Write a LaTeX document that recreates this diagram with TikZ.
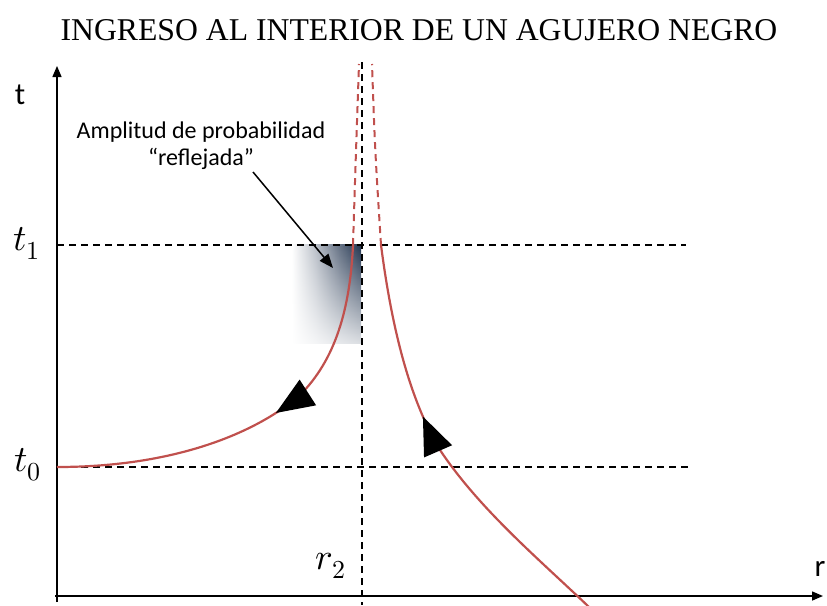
\documentclass[tikz,border=0pt]{standalone}
\usepackage{fontspec}
\usepackage{unicode-math}
\setmainfont{Liberation Serif}
\setmathfont{Latin Modern Math}
\newfontfamily\calfont{Carlito}
\usetikzlibrary{arrows.meta,decorations.markings,fadings}
\definecolor{curvered}{HTML}{C0504D}
\definecolor{navy}{HTML}{22344F}
\pgfdeclarehorizontalshading{bhh}{100bp}{%
  color(0bp)=(white); color(30bp)=(white); color(45bp)=(navy!30!white);
  color(62bp)=(navy!72!white); color(75bp)=(navy); color(100bp)=(navy)}
\tikzfading[name=bhfade, top color=transparent!0, middle color=transparent!20, bottom color=transparent!85]
\tikzset{
  axisline/.style={line width=1.5pt,-{Triangle[length=11pt,width=9pt]}},
  guide/.style={line width=1.5pt,dash pattern=on 7pt off 5pt},
  redline/.style={curvered,line width=2.2pt},
  reddash/.style={curvered,line width=2pt,dash pattern=on 7pt off 5pt},
  bigtip/.style={postaction={decorate,decoration={markings,
      mark=at position #1 with {\arrow{Triangle[length=38pt,width=30pt,color=black,fill=black]}}}}},
  mathlbl/.style={font=\fontsize{37}{39}\selectfont},
  sanslbl/.style={font=\calfont\fontsize{31}{33}\selectfont},
}
\begin{document}
\begin{tikzpicture}[x=1pt,y=-1pt]
\useasboundingbox (0,0) rectangle (827,605);
% title
\node[font=\fontsize{31.7}{35}\selectfont] (title) at (419,30) {INGRESO AL INTERIOR DE UN AGUJERO NEGRO};
% shading
\shade[shading=bhh,path fading=bhfade] (284,245) rectangle (361,344);
% coordinates
\coordinate (o) at (57,602);
\coordinate (ttop) at (57,66);
\coordinate (rl) at (55,596);
\coordinate (rr) at (823,596);
\coordinate (vtop) at (362,62);
\coordinate (vbot) at (362,605);
\coordinate (t1l) at (57,245);
\coordinate (t1r) at (686,245);
\coordinate (t0l) at (57,467);
\coordinate (t0r) at (690,467);
% guides
\draw[guide] (vtop) -- (vbot);
\draw[guide] (t1l) -- (t1r);
\draw[guide] (t0l) -- (t0r);
% axes
\draw[axisline] (o) -- (ttop);
\draw[axisline] (rl) -- (rr);
% red dashed extensions
\coordinate (la) at (353,245);
\coordinate (lb) at (359,64);
\coordinate (ra) at (381,245);
\coordinate (rb) at (372,64);
\draw[reddash] (la) .. controls (356,150) .. (lb);
\draw[reddash] (ra) .. controls (375,150) .. (rb);
% left curve (drawn downward so the tip points down-left)
\coordinate (lm) at (300,395);
\draw[redline,bigtip=193pt] (la) .. controls (350,310) and (335,360) .. (lm)
   .. controls (260,430) and (180,467) .. (t0l);
% right curve (drawn upward so the tip points up)
\coordinate (rm) at (440,450);
\coordinate (rend) at (590,608);
\draw[redline,bigtip=256pt] (rend) .. controls (540,560) and (480,510) .. (rm)
   .. controls (410,400) and (392,330) .. (ra);
% labels
\node[sanslbl] (tl) at (20,95) {t};
\node[sanslbl] (rlab) at (820,569) {r};
\node[mathlbl] (t1lab) at (27,243) {$t_1$};
\node[mathlbl] (t0lab) at (28,465) {$t_0$};
\node[mathlbl] (r2lab) at (331,566) {$r_2$};
% annotation
\node[font=\calfont\fontsize{24}{27}\selectfont,align=center] (ann) at (201,146) {Amplitud de probabilidad\\\textquotedblleft reflejada\textquotedblright};
\coordinate (astart) at (253,172);
\coordinate (aend) at (333,268);
\draw[line width=1.5pt,-{Triangle[length=14pt,width=11pt]}] (astart) -- (aend);
\end{tikzpicture}
\end{document}
